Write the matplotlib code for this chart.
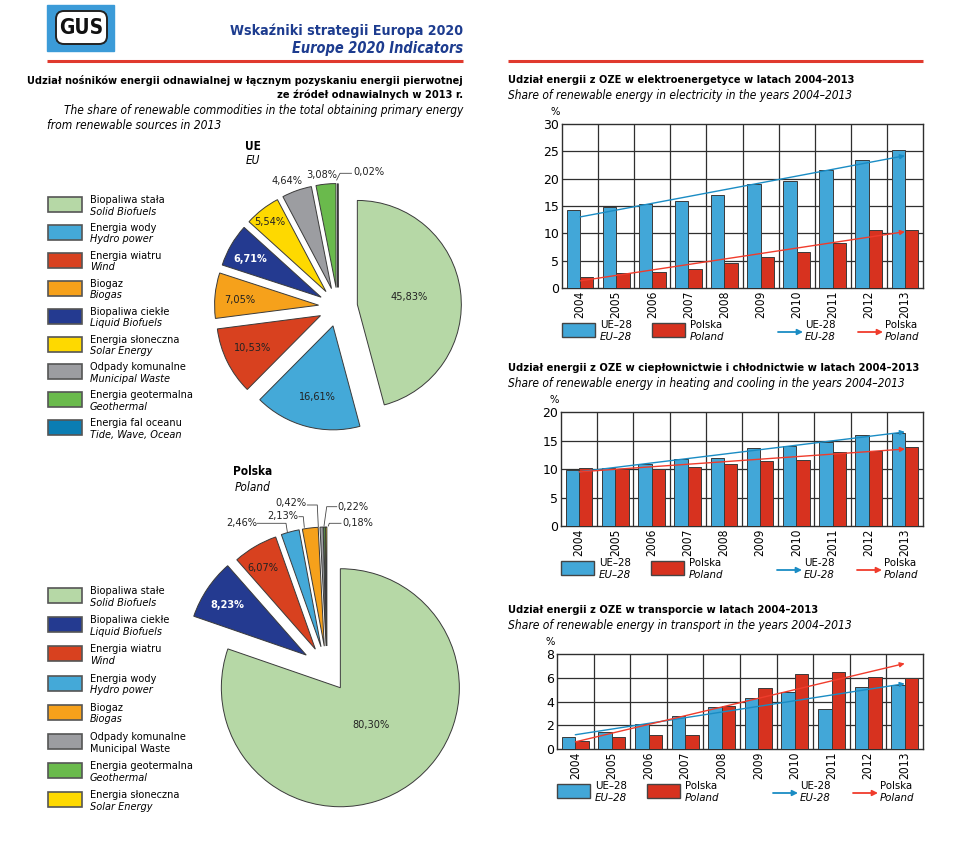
import numpy as np
import matplotlib
matplotlib.use('Agg')
import matplotlib.pyplot as plt
from matplotlib.patches import Rectangle, FancyBboxPatch

plt.rcParams['font.family'] = ['DejaVu Sans']
plt.rcParams['font.stretch'] = 'condensed'

W, H = 971, 847

# pie data: share in primary energy from renewables, 2013 (%)
eu_names_pl = ['Biopaliwa stała', 'Energia wody', 'Energia wiatru', 'Biogaz', 'Biopaliwa ciekłe',
               'Energia słoneczna', 'Odpady komunalne', 'Energia geotermalna', 'Energia fal oceanu']
eu_names_en = ['Solid Biofuels', 'Hydro power', 'Wind', 'Biogas', 'Liquid Biofuels',
               'Solar Energy', 'Municipal Waste', 'Geothermal', 'Tide, Wave, Ocean']
eu_share = [45.83, 16.61, 10.53, 7.05, 6.71, 5.54, 4.64, 3.08, 0.02]

pl_names_pl = ['Biopaliwa stałe', 'Biopaliwa ciekłe', 'Energia wiatru', 'Energia wody', 'Biogaz',
               'Odpady komunalne', 'Energia geotermalna', 'Energia słoneczna']
pl_names_en = ['Solid Biofuels', 'Liquid Biofuels', 'Wind', 'Hydro power', 'Biogas',
               'Municipal Waste', 'Geothermal', 'Solar Energy']
pl_share = [80.30, 8.23, 6.07, 2.46, 2.13, 0.42, 0.22, 0.18]

# bar data 2004-2013 (%)
years = [2004, 2005, 2006, 2007, 2008, 2009, 2010, 2011, 2012, 2013]
elec_eu = [14.2, 14.8, 15.3, 16.0, 17.0, 19.0, 19.6, 21.6, 23.5, 25.3]
elec_pl = [2.0, 2.8, 3.0, 3.5, 4.5, 5.7, 6.6, 8.2, 10.7, 10.7]
elec_trend_eu = [13.0, 24.2]
elec_trend_pl = [1.3, 10.3]
heat_eu = [9.8, 10.2, 10.9, 11.8, 11.9, 13.6, 14.1, 14.8, 16.0, 16.4]
heat_pl = [10.1, 10.0, 10.0, 10.3, 10.8, 11.4, 11.5, 12.9, 13.2, 13.8]
heat_trend_eu = [9.5, 16.5]
heat_trend_pl = [9.5, 13.5]
trans_eu = [1.0, 1.4, 2.1, 2.8, 3.5, 4.3, 4.8, 3.4, 5.2, 5.4]
trans_pl = [0.7, 1.0, 1.2, 1.2, 3.6, 5.1, 6.3, 6.5, 6.1, 6.0]
trans_trend_eu = [1.2, 5.5]
trans_trend_pl = [0.6, 7.2]

colors = {'Solid Biofuels': '#b6d8a6', 'Hydro power': '#44a9d8', 'Wind': '#d8411f',
          'Biogas': '#f6a11b', 'Liquid Biofuels': '#243a90', 'Solar Energy': '#fed900',
          'Municipal Waste': '#9c9da1', 'Geothermal': '#6aba4c', 'Tide, Wave, Ocean': '#0b7db3'}
bar_blue = '#42a7d8'
bar_red = '#d7321f'
line_blue = '#1a8cc4'
line_red = '#f03c2c'
navy = '#1d3c8f'
edge = '#3a3a3a'
FS = 7.8


def Y(y):
    return H - y


def pct(v):
    return f'{v:.2f}%'.replace('.', ',')


fig = plt.figure(figsize=(9.71, 8.47), dpi=100)
renderer = fig.canvas.get_renderer()
ax0 = fig.add_axes([0, 0, 1, 1])


def fit(t, width, grow=1.06):
    # scale a text so it spans about the same width as in the original layout
    w = t.get_window_extent(renderer).width
    t.set_fontsize(t.get_fontsize() * width / w * grow)
    return t


# header
ax0.add_patch(Rectangle((47, Y(51)), 67, 46, color='#3b9bd8'))
ax0.add_patch(FancyBboxPatch((56, Y(44)), 51, 33, boxstyle='round,pad=0,rounding_size=8',
                             facecolor='white', edgecolor='#222222', lw=1.4))
ax0.text(81.5, Y(27.5), 'GUS', fontsize=15, fontweight='bold', ha='center', va='center',
         color='#111111')
fit(ax0.text(463, Y(31), 'Wskaźniki strategii Europa 2020', fontsize=12, fontweight='bold',
             color=navy, ha='right', va='center'), 211, 1.1)
fit(ax0.text(463, Y(48), 'Europe 2020 Indicators', fontsize=12, fontweight='bold', style='italic',
             color=navy, ha='right', va='center'), 155, 1.1)
ax0.plot([47, 463], [Y(61), Y(61)], color='#e03a2e', lw=2.2, solid_capstyle='butt')
ax0.plot([508, 923], [Y(61), Y(61)], color='#e03a2e', lw=2.2, solid_capstyle='butt')

# left section title
fit(ax0.text(463, Y(80), 'Udział nośników energii odnawialnej w łącznym pozyskaniu energii pierwotnej',
             fontsize=8, fontweight='bold', ha='right', va='center'), 411)
fit(ax0.text(463, Y(95), 'ze źródeł odnawialnych w 2013 r.', fontsize=8, fontweight='bold',
             ha='right', va='center'), 174)
fit(ax0.text(463, Y(110), 'The share of renewable commodities in the total obtaining primary energy',
             fontsize=8, style='italic', ha='right', va='center'), 376)
fit(ax0.text(47, Y(125), 'from renewable sources in 2013', fontsize=8, style='italic',
             ha='left', va='center'), 165)

ax0.text(253, Y(146), 'UE', fontsize=8.5, fontweight='bold', ha='center', va='center')
ax0.text(253, Y(160), 'EU', fontsize=8.5, style='italic', ha='center', va='center')
ax0.text(253, Y(471), 'Polska', fontsize=8.5, fontweight='bold', ha='center', va='center')
ax0.text(253, Y(487), 'Poland', fontsize=8.5, style='italic', ha='center', va='center')

wp = dict(edgecolor=edge, linewidth=0.7)

# EU pie
ax0.pie(eu_share, colors=[colors[k] for k in eu_names_en], startangle=90, counterclock=False,
        explode=[19.5] * len(eu_share), radius=104, center=(338, Y(307)), wedgeprops=wp, frame=True)
eu_lab_xy = [(409, 297), (317, 397), (253, 348), (240, 300), (250, 259), (270, 222),
             (287, 181), (322, 175), (353, 172)]
for i, (v, (lx, ly)) in enumerate(zip(eu_share, eu_lab_xy)):
    liquid = eu_names_en[i] == 'Liquid Biofuels'
    ha = 'left' if i == len(eu_share) - 1 else 'center'
    ax0.text(lx, Y(ly), pct(v), fontsize=FS, ha=ha, va='center',
             color='white' if liquid else '#222222', fontweight='bold' if liquid else 'normal')
ax0.plot([351.5, 340, 336.7], [Y(173.3), Y(173.3), Y(180)], color='#444444', lw=0.6)

# Poland pie
pl_explode = [23, 25, 23, 23, 23, 23, 23, 23]
ax0.pie(pl_share, colors=[colors[k] for k in pl_names_en], startangle=90, counterclock=False,
        explode=pl_explode, radius=119, center=(327, Y(669)), wedgeprops=wp, frame=True)
pl_lab = [((371, 725), 'center'), ((227, 605), 'center'), ((263, 568), 'center'),
          ((257, 523), 'right'), ((298.5, 516), 'right'), ((307, 503), 'right'),
          ((337.5, 507), 'left'), ((342, 523), 'left')]
for i, (v, ((lx, ly), ha)) in enumerate(zip(pl_share, pl_lab)):
    liquid = pl_names_en[i] == 'Liquid Biofuels'
    ax0.text(lx, Y(ly), pct(v), fontsize=FS, ha=ha, va='center',
             color='white' if liquid else '#222222', fontweight='bold' if liquid else 'normal')
leaders = [[(257.3, 523.3), (286, 523.3), (287.3, 531.7)],
           [(299, 516.7), (303.3, 516.7), (304.3, 527.3)],
           [(307.3, 505), (317.3, 505), (318.3, 526.7)],
           [(336.7, 506.7), (326.7, 506.7), (324, 526)],
           [(341, 523.3), (329.3, 523.3), (328.3, 526)]]
for pts in leaders:
    ax0.plot([p[0] for p in pts], [Y(p[1]) for p in pts], color='#444444', lw=0.6)


def pie_legend(names_pl, names_en, top0, step, upright=()):
    for i, (npl, nen) in enumerate(zip(names_pl, names_en)):
        top = top0 + i * step
        ax0.add_patch(Rectangle((48, Y(top + 15)), 34, 15, facecolor=colors[nen],
                                edgecolor='#555555', lw=1.2))
        ax0.text(90, Y(top + 3), npl, fontsize=FS, ha='left', va='center')
        ax0.text(90, Y(top + 14.5), nen, fontsize=FS, ha='left', va='center',
                 style='normal' if i in upright else 'italic')


pie_legend(eu_names_pl, eu_names_en, 197, 27.9)
pie_legend(pl_names_pl, pl_names_en, 588, 29.2, upright=(5,))


def bar_panel(left, top, right, bottom, eu, pl, trend_eu, trend_pl, ymax, step,
              title_pl, title_en, title_y, title_w, leg_top):
    ax = fig.add_axes([left / W, (H - bottom) / H, (right - left) / W, (bottom - top) / H])
    x = np.arange(len(years))
    w = 0.37
    ax.bar(x - w / 2, eu, w, color=bar_blue, edgecolor=edge, lw=0.7, zorder=3)
    ax.bar(x + w / 2, pl, w, color=bar_red, edgecolor=edge, lw=0.7, zorder=3)
    ax.set_xlim(-0.5, len(years) - 0.5)
    ax.set_ylim(0, ymax)
    ticks = np.arange(0, ymax + step / 2, step)
    ax.set_yticks(ticks)
    ax.set_yticklabels([f'{t:g}' for t in ticks], fontsize=9, fontstretch='normal')
    ax.set_xticks(x)
    ax.set_xticklabels(years, rotation=90, fontsize=8.6)
    ax.tick_params(length=0, pad=2)
    for xx in x[:-1] + 0.5:
        ax.axvline(xx, color='#2f2f2f', lw=0.9, zorder=1)
    for yy in ticks[1:-1]:
        ax.axhline(yy, color='#2f2f2f', lw=0.9, zorder=1)
    for s in ax.spines.values():
        s.set_linewidth(1.0)
        s.set_color('#2f2f2f')
    ax.annotate('', xy=(x[-1], trend_eu[1]), xytext=(x[0], trend_eu[0]),
                arrowprops=dict(arrowstyle='-|>', color=line_blue, lw=1.0, mutation_scale=7,
                                shrinkA=0, shrinkB=0), zorder=5)
    ax.annotate('', xy=(x[-1], trend_pl[1]), xytext=(x[0], trend_pl[0]),
                arrowprops=dict(arrowstyle='-|>', color=line_red, lw=1.0, mutation_scale=7,
                                shrinkA=0, shrinkB=0), zorder=5)

    # titles
    fit(ax0.text(508, Y(title_y), title_pl, fontsize=8, fontweight='bold', ha='left',
                 va='center'), title_w[0])
    fit(ax0.text(508, Y(title_y + 15), title_en, fontsize=8, style='italic', ha='left',
                 va='center'), title_w[1])
    ax0.text(left - 7, Y(top - 12), '%', fontsize=8, ha='center', va='center')

    # legend
    L = left
    for dx, col, t1, t2 in [(0, bar_blue, 'UE–28', 'EU–28'), (90, bar_red, 'Polska', 'Poland')]:
        ax0.add_patch(Rectangle((L + dx, Y(leg_top + 14)), 33, 14, facecolor=col,
                                edgecolor='#444444', lw=1.0))
        ax0.text(L + dx + 38, Y(leg_top + 2), t1, fontsize=8.2, ha='left', va='center')
        ax0.text(L + dx + 38, Y(leg_top + 13.5), t2, fontsize=8.2, style='italic',
                 ha='left', va='center')
    for dx, col, t1, t2 in [(216, line_blue, 'UE-28', 'EU-28'), (296, line_red, 'Polska', 'Poland')]:
        ax0.annotate('', xy=(L + dx + 25, Y(leg_top + 9)), xytext=(L + dx, Y(leg_top + 9)),
                     arrowprops=dict(arrowstyle='-|>', color=col, lw=1.3, mutation_scale=8,
                                     shrinkA=0, shrinkB=0))
        ax0.text(L + dx + 27, Y(leg_top + 2), t1, fontsize=8.2, ha='left', va='center')
        ax0.text(L + dx + 27, Y(leg_top + 13.5), t2, fontsize=8.2, style='italic',
                 ha='left', va='center')
    return ax


bar_panel(562, 124, 923, 288, elec_eu, elec_pl, elec_trend_eu, elec_trend_pl, 30, 5,
          'Udział energii z OZE w elektroenergetyce w latach 2004–2013',
          'Share of renewable energy in electricity in the years 2004–2013', 80, (326, 325), 323)
bar_panel(561, 412, 923, 526, heat_eu, heat_pl, heat_trend_eu, heat_trend_pl, 20, 5,
          'Udział energii z OZE w ciepłownictwie i chłodnictwie w latach 2004–2013',
          'Share of renewable energy in heating and cooling in the years 2004–2013', 368, (387, 377), 561)
bar_panel(557, 654, 923, 749, trans_eu, trans_pl, trans_trend_eu, trans_trend_pl, 8, 2,
          'Udział energii z OZE w transporcie w latach 2004–2013',
          'Share of renewable energy in transport in the years 2004–2013', 610, (292, 324), 784)

ax0.set_xlim(0, W)
ax0.set_ylim(0, H)
ax0.set_aspect('auto')
ax0.axis('off')

fig.savefig('out.png', dpi=100)
